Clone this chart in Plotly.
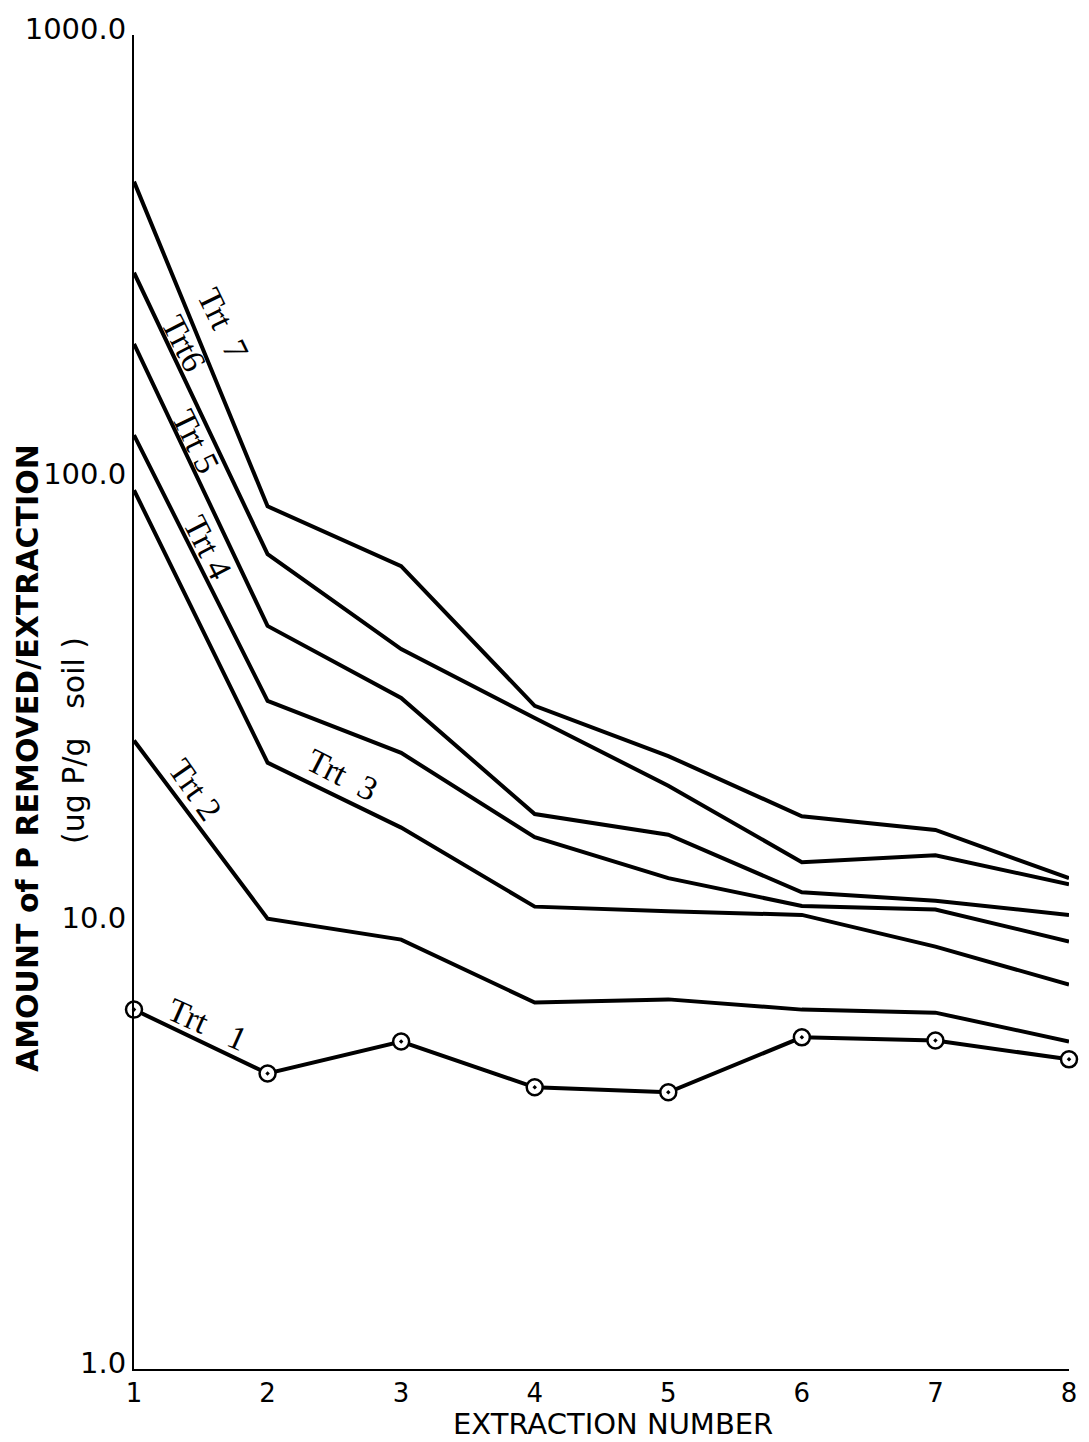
import plotly.graph_objects as go

# ---- data ----
extraction = [1, 2, 3, 4, 5, 6, 7, 8]
trt1 = [6.43, 4.62, 5.45, 4.30, 4.19, 5.57, 5.48, 4.97]
trt2 = [25.9, 10.3, 9.24, 6.67, 6.78, 6.43, 6.33, 5.45]
trt3 = [94.7, 23.1, 16.5, 10.96, 10.7, 10.5, 8.91, 7.32]
trt4 = [126, 31.8, 24.3, 15.7, 12.7, 11.0, 10.8, 9.15]
trt5 = [202, 46.9, 32.3, 17.7, 15.9, 11.8, 11.3, 10.5]
trt6 = [292, 68.0, 41.6, 29.1, 20.5, 13.8, 14.3, 12.3]
trt7 = [468, 87.1, 63.9, 31.0, 23.9, 17.5, 16.3, 12.7]

ytick_vals = [1, 10, 100, 1000]
ytick_text = ["1.0", "10.0", "100.0", "1000.0"]
xtick_text = ["1", "2", "3", "4", "5", "6", "7", "8"]

W, H = 1089, 1442
ML, MR, MT, MB = 134, 19, 33, 73
PW, PH = W - ML - MR, H - MT - MB

def paper(px, py):
    return (px - ML) / PW, (H - MB - py) / PH

fig = go.Figure()
for ys in [trt2, trt3, trt4, trt5, trt6, trt7]:
    fig.add_trace(go.Scatter(x=extraction, y=ys, mode="lines",
                             line=dict(color="black", width=4),
                             showlegend=False, hoverinfo="skip"))
fig.add_trace(go.Scatter(x=extraction, y=trt1, mode="lines+markers",
                         line=dict(color="black", width=4),
                         marker=dict(symbol="circle-dot", size=16, color="white",
                                     line=dict(color="black", width=2.5)),
                         showlegend=False, hoverinfo="skip", cliponaxis=False))

labels = [
    ("Trt  7", 223, 322, 64),
    ("Trt6", 184, 342, 63),
    ("Trt 5", 196, 440, 64),
    ("Trt 4", 208, 546, 63),
    ("Trt  3", 342, 774, 27),
    ("Trt 2", 195, 789, 55),
    ("Trt   1", 208, 1024, 24),
]
annotations = []
for txt, px, py, ang in labels:
    xp, yp = paper(px, py)
    annotations.append(dict(text=txt, x=xp, y=yp, xref="paper", yref="paper",
                            xanchor="center", yanchor="middle",
                            showarrow=False, textangle=ang,
                            font=dict(family="Liberation Serif", size=34, color="black")))

# axis titles
xp, yp = paper(614, 1424)
annotations.append(dict(text="EXTRACTION NUMBER", x=xp, y=yp, xref="paper", yref="paper",
                        xanchor="center", yanchor="middle",
                        showarrow=False, font=dict(family="DejaVu Sans", size=29, color="black")))
xp, yp = paper(28, 757)
annotations.append(dict(text="<b>AMOUNT of P REMOVED/EXTRACTION</b>", x=xp, y=yp,
                        xref="paper", yref="paper", xanchor="center", yanchor="middle",
                        showarrow=False, textangle=-90,
                        font=dict(family="DejaVu Sans", size=30, color="black")))
xp, yp = paper(74, 740)
annotations.append(dict(text="(ug P/g   soil )", x=xp, y=yp,
                        xref="paper", yref="paper", xanchor="center", yanchor="middle",
                        showarrow=False, textangle=-90,
                        font=dict(family="DejaVu Sans", size=30, color="black")))

fig.update_layout(
    width=W, height=H,
    margin=dict(l=ML, r=MR, t=MT, b=MB),
    paper_bgcolor="white", plot_bgcolor="white",
    annotations=annotations,
    xaxis=dict(range=[1, 8], tickvals=extraction, ticktext=xtick_text,
               showgrid=False, zeroline=False, showline=True, linecolor="black",
               linewidth=2, ticks="", tickfont=dict(family="DejaVu Sans", size=26, color="black")),
    yaxis=dict(type="log", range=[0, 3], tickvals=ytick_vals, ticktext=ytick_text,
               showgrid=False, zeroline=False, showline=True, linecolor="black",
               linewidth=2, ticks="", ticklabelshift=-6,
               tickfont=dict(family="DejaVu Sans", size=29, color="black")),
)

fig.write_html("out.html")
